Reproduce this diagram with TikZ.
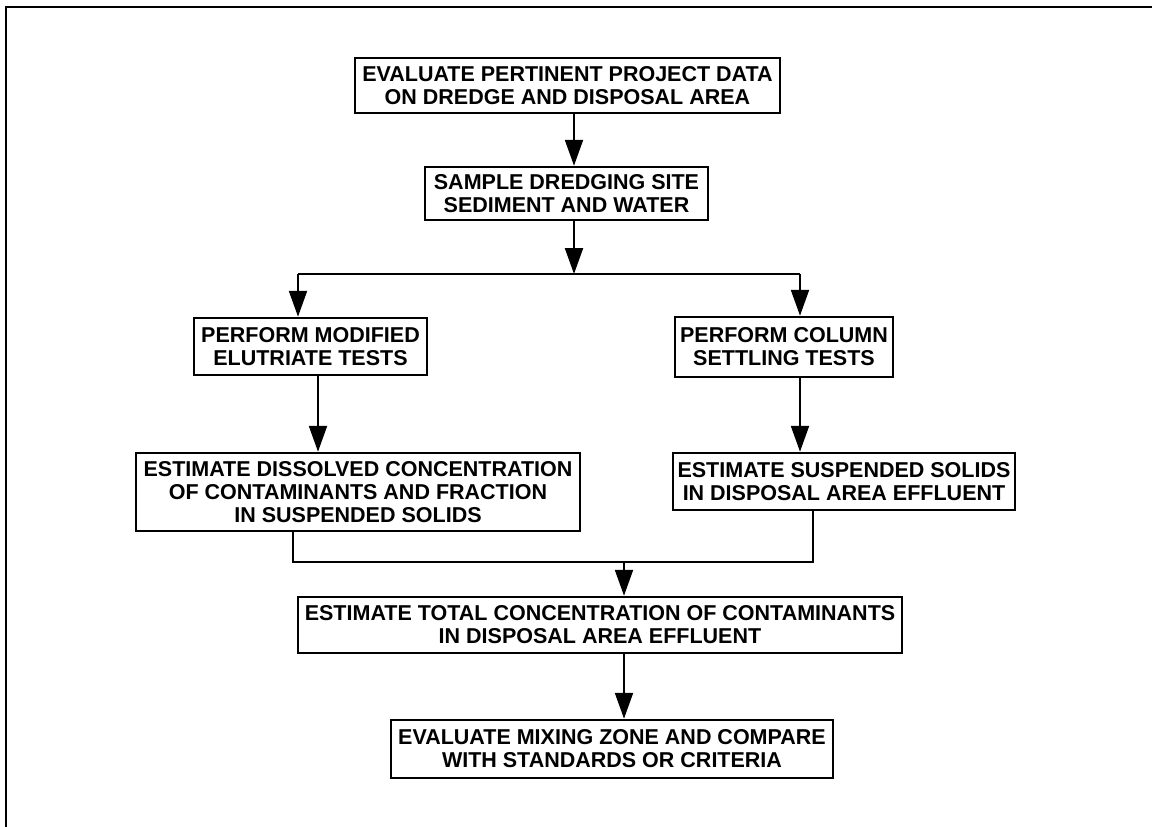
\documentclass[tikz,border=0pt]{standalone}
\usepackage{fontspec}
\setmainfont{Liberation Sans}
\usepackage{tikz}
\usetikzlibrary{arrows.meta,positioning,calc}

\tikzset{
  stage/.style={draw, line width=2.5pt, align=center, inner sep=2pt,
    font=\bfseries\fontsize{21.5}{23}\selectfont},
  flow/.style={line width=2.2pt, -{Triangle[length=26pt,width=18pt]}},
}

\begin{document}
\begin{tikzpicture}[x=1pt, y=-1pt]

    \useasboundingbox (0,0) rectangle (1152,827);

    % frame of the page
    \draw [line width=2.5pt] (6,827) -- (6,7) -- (1152,7);

    \node [stage, minimum width=425, minimum height=55] (evaluate) at (567.5,85.5)
      { EVALUATE PERTINENT PROJECT DATA \\ ON DREDGE AND DISPOSAL AREA } ;

    \node [stage, minimum width=283, minimum height=53] (sample) at (566.5,193.5)
      { SAMPLE DREDGING SITE \\ SEDIMENT AND WATER } ;

    \node [stage, minimum width=233, minimum height=57] (modified) at (310.5,346.5)
      { PERFORM MODIFIED \\ ELUTRIATE TESTS } ;

    \node [stage, minimum width=218, minimum height=60] (column) at (784,347)
      { PERFORM COLUMN \\ SETTLING TESTS } ;

    \node [stage, minimum width=444, minimum height=78] (dissolved) at (358,492)
      { ESTIMATE DISSOLVED CONCENTRATION \\ OF CONTAMINANTS AND FRACTION \\ IN SUSPENDED SOLIDS } ;

    \node [stage, minimum width=342, minimum height=57] (suspended) at (844,481.5)
      { ESTIMATE SUSPENDED SOLIDS \\ IN DISPOSAL AREA EFFLUENT } ;

    \node [stage, minimum width=604, minimum height=56] (total) at (600,625)
      { ESTIMATE TOTAL CONCENTRATION OF CONTAMINANTS \\ IN DISPOSAL AREA EFFLUENT } ;

    \node [stage, minimum width=442, minimum height=58] (mixing) at (612,749)
      { EVALUATE MIXING ZONE AND COMPARE \\ WITH STANDARDS OR CRITERIA } ;

    % branch and join points
    \coordinate (split)  at (574,274);
    \coordinate (splitL) at (298,274);
    \coordinate (splitR) at (800,274);
    \coordinate (dropL)  at (318,420);
    \coordinate (mergeL) at (293,562);
    \coordinate (mergeR) at (813,562);
    \coordinate (merge)  at (624,562);

    \draw [flow] (evaluate.south -| split) -- (sample.north -| split);
    \draw [flow] (sample.south -| split) -- (split);
    \draw [line width=2.2pt] (splitL) -- (splitR);
    \draw [flow] (splitL) -- (modified.north -| splitL);
    \draw [flow] (splitR) -- (column.north -| splitR);

    \draw [flow] (modified.south -| dropL) -- (dissolved.north -| dropL);
    \draw [flow] (column.south -| splitR) -- (suspended.north -| splitR);

    \draw [line width=2.2pt] (dissolved.south -| mergeL) -- (mergeL) -- (mergeR) -- (suspended.south -| mergeR);
    \draw [flow] (merge) -- (total.north -| merge);
    \draw [flow] (total.south -| merge) -- (mixing.north -| merge);

\end{tikzpicture}
\end{document}
